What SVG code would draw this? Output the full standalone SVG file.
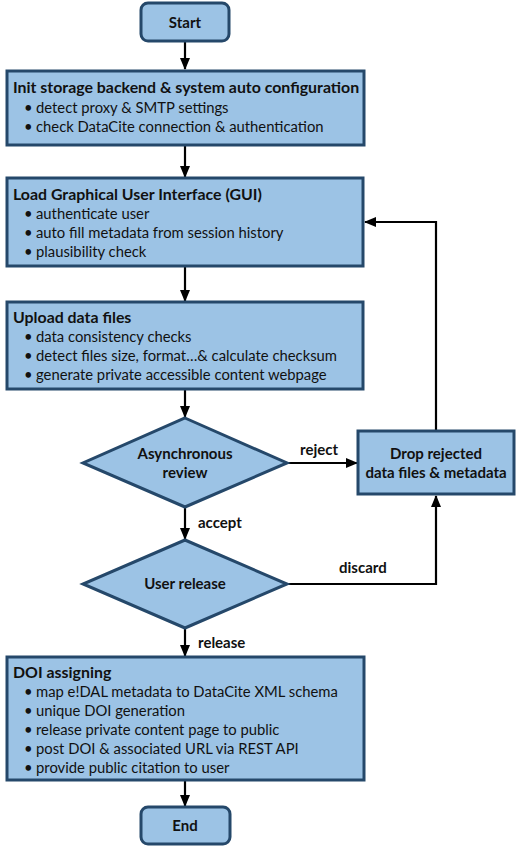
<svg xmlns="http://www.w3.org/2000/svg" width="520" height="849" viewBox="0 0 520 849">
<defs>
<style>
.box{fill:#9cc3e5;stroke:#25486a;stroke-width:3}
.t{font-family:Lato,"Liberation Sans",sans-serif;font-size:14.8px;fill:#111}
.h{font-weight:bold;font-size:15.9px}
.b{font-weight:bold;font-size:15px}
.c{text-anchor:middle}
.ln{fill:none;stroke:#000;stroke-width:2.2}
</style>
<marker id="ah" markerWidth="12" markerHeight="10" refX="11" refY="5" orient="auto" markerUnits="userSpaceOnUse">
<path d="M0,0 L12,5 L0,10 Z" fill="#000"/>
</marker>
</defs>
<rect width="520" height="849" fill="#fff"/>
<g id="connectors">
<line class="ln" x1="185" y1="41" x2="185" y2="69" marker-end="url(#ah)"/>
<line class="ln" x1="185" y1="146" x2="185" y2="177" marker-end="url(#ah)"/>
<line class="ln" x1="185" y1="267" x2="185" y2="301" marker-end="url(#ah)"/>
<line class="ln" x1="185" y1="390" x2="185" y2="417" marker-end="url(#ah)"/>
<line class="ln" x1="287" y1="463" x2="357" y2="463" marker-end="url(#ah)"/>
<line class="ln" x1="185" y1="507" x2="185" y2="539" marker-end="url(#ah)"/>
<polyline class="ln" points="287,584 436,584 436,496" marker-end="url(#ah)"/>
<polyline class="ln" points="436,430 436,222 365,222" marker-end="url(#ah)"/>
<line class="ln" x1="185" y1="628" x2="185" y2="656" marker-end="url(#ah)"/>
<line class="ln" x1="185" y1="781" x2="185" y2="806" marker-end="url(#ah)"/>
<text class="t b" x="300" y="455">reject</text>
<text class="t b" x="198" y="528">accept</text>
<text class="t b" x="339" y="573">discard</text>
<text class="t b" x="198" y="648">release</text>
</g>
<g id="start">
<rect class="box" x="141" y="3" width="88" height="38" rx="7"/>
<text class="t b c" x="185" y="28">Start</text>
</g>
<g id="init">
<rect class="box" x="7" y="71" width="357" height="74"/>
<text class="t h" x="13" y="93">Init storage backend &amp; system auto configuration</text>
<text class="t" x="24" y="113">•</text><text class="t" x="36" y="113">detect proxy &amp; SMTP settings</text>
<text class="t" x="24" y="132">•</text><text class="t" x="36" y="132">check DataCite connection &amp; authentication</text>
</g>
<g id="gui">
<rect class="box" x="7" y="178" width="356" height="88"/>
<text class="t h" x="13" y="200">Load Graphical User Interface (GUI)</text>
<text class="t" x="24" y="219">•</text><text class="t" x="36" y="219">authenticate user</text>
<text class="t" x="24" y="238">•</text><text class="t" x="36" y="238">auto fill metadata from session history</text>
<text class="t" x="24" y="257">•</text><text class="t" x="36" y="257">plausibility check</text>
</g>
<g id="upload">
<rect class="box" x="7" y="302" width="356" height="87"/>
<text class="t h" x="13" y="323">Upload data files</text>
<text class="t" x="24" y="342">•</text><text class="t" x="36" y="342">data consistency checks</text>
<text class="t" x="24" y="361">•</text><text class="t" x="36" y="361">detect files size, format…&amp; calculate checksum</text>
<text class="t" x="24" y="380">•</text><text class="t" x="36" y="380">generate private accessible content webpage</text>
</g>
<g id="review">
<polygon class="box" points="185,418 287,463 185,507 83,463"/>
<text class="t b c" x="185" y="459">Asynchronous</text>
<text class="t b c" x="185" y="478">review</text>
</g>
<g id="drop">
<rect class="box" x="358" y="431" width="156" height="63"/>
<text class="t b c" x="436" y="459">Drop rejected</text>
<text class="t b c" x="436" y="478">data files &amp; metadata</text>
</g>
<g id="userrelease">
<polygon class="box" points="185,540 287,584 185,628 83,584"/>
<text class="t b c" x="185" y="589">User release</text>
</g>
<g id="doi">
<rect class="box" x="7" y="657" width="357" height="123"/>
<text class="t h" x="13" y="678">DOI assigning</text>
<text class="t" x="24" y="697">•</text><text class="t" x="36" y="697">map e!DAL metadata to DataCite XML schema</text>
<text class="t" x="24" y="716">•</text><text class="t" x="36" y="716">unique DOI generation</text>
<text class="t" x="24" y="735">•</text><text class="t" x="36" y="735">release private content page to public</text>
<text class="t" x="24" y="754">•</text><text class="t" x="36" y="754">post DOI &amp; associated URL via REST API</text>
<text class="t" x="24" y="773">•</text><text class="t" x="36" y="773">provide public citation to user</text>
</g>
<g id="end">
<rect class="box" x="141" y="807" width="89" height="37" rx="7"/>
<text class="t b c" x="185" y="831">End</text>
</g>
</svg>
